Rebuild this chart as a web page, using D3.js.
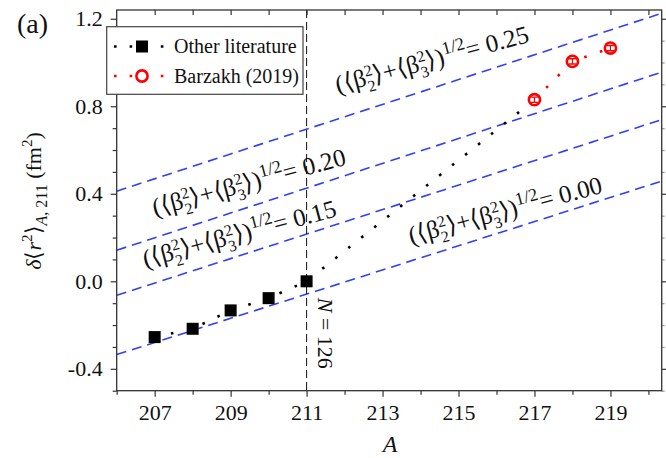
<!DOCTYPE html>
<html>
<head>
<meta charset="utf-8">
<script src="https://cdn.jsdelivr.net/npm/d3@7"></script>
<style>
  body { margin: 0; background: #fff; }
  svg { display: block; }
</style>
</head>
<body>
<div id="chart"></div>
<script>
// data
const otherA = [207, 208, 209, 210, 211];
const otherVal = [-0.255, -0.217, -0.133, -0.077, 0.0];
const barzakhA = [217, 218, 219];
const barzakhVal = [0.83, 1.005, 1.066];
const barzakhErr = [0.012, 0.012, 0.012];

// iso-deformation lines: value at A=206 and at A=220.35
const betaLabels = ['0.25', '0.20', '0.15', '0.00'];
const betaStart = [0.412, 0.142, -0.064, -0.335];
const betaEnd = [1.225, 0.956, 0.739, 0.458];
// where each label's baseline starts (A, value)
const betaLabelA = [211.82, 207.0, 206.75, 213.75];
const betaLabelVal = [0.859, 0.298, 0.063, 0.17];
const labelAngle = 15;

const xMajorTicks = [207, 209, 211, 213, 215, 217, 219];
const yMajorTicks = [-0.4, 0.0, 0.4, 0.8, 1.2];
const magicN = 211;

const W = 666, H = 458;
const FONT = "'Liberation Serif', 'Times New Roman', serif";
const xDomain = [206, 220.35], yDomain = [-0.5, 1.24];
const m = { left: 116.7, right: 661.7, top: 10, bottom: 390.7 };

const x = d3.scaleLinear().domain(xDomain).range([m.left, m.right]);
const y = d3.scaleLinear().domain(yDomain).range([m.bottom, m.top]);

const svg = d3.select('#chart').append('svg')
  .attr('width', W).attr('height', H)
  .attr('font-family', FONT);

svg.append('defs').append('clipPath').attr('id', 'plot')
  .append('rect').attr('x', m.left).attr('y', m.top)
  .attr('width', m.right - m.left).attr('height', m.bottom - m.top);

const plot = svg.append('g').attr('clip-path', 'url(#plot)');

// blue dashed lines
betaLabels.forEach((b, i) => {
  plot.append('line')
    .attr('x1', x(xDomain[0])).attr('y1', y(betaStart[i]))
    .attr('x2', x(xDomain[1])).attr('y2', y(betaEnd[i]))
    .attr('stroke', '#3040f8').attr('stroke-width', 1.6)
    .attr('stroke-dasharray', '10,6');
});

// N = 126 line
plot.append('line')
  .attr('x1', x(magicN)).attr('x2', x(magicN))
  .attr('y1', m.top).attr('y2', m.bottom)
  .attr('stroke', '#111').attr('stroke-width', 1)
  .attr('stroke-dasharray', '8,4');

svg.append('text')
  .attr('transform', `translate(${x(magicN) + 11},${y(-0.075)}) rotate(90)`)
  .attr('font-size', 22).attr('fill', '#111')
  .html('<tspan font-style="italic">N</tspan> = 126');

// labels on the iso lines
betaLabels.forEach((b, i) => {
  const t = svg.append('text')
    .attr('transform', `translate(${x(betaLabelA[i])},${y(betaLabelVal[i])}) rotate(${-labelAngle})`)
    .attr('font-size', 25).attr('fill', '#111');
  t.html(
    '(⟨β<tspan font-size="16" dy="-9">2</tspan><tspan font-size="16" dx="-8" dy="16">2</tspan>' +
    '<tspan dy="-7">⟩+⟨β</tspan><tspan font-size="16" dy="-9">2</tspan><tspan font-size="16" dx="-8" dy="16">3</tspan>' +
    '<tspan dy="-7">⟩)</tspan><tspan font-size="18" dy="-10">1/2</tspan><tspan dy="10">= ' + b + '</tspan>'
  );
});

// other literature: dotted line through to first Barzakh point
const otherPts = otherA.map((a, i) => [a, otherVal[i]]);
const linkPts = otherPts.concat([[barzakhA[0], barzakhVal[0]]]);
const line = d3.line().x(d => x(d[0])).y(d => y(d[1]));

plot.append('path').datum(linkPts)
  .attr('d', line).attr('fill', 'none')
  .attr('stroke', '#000').attr('stroke-width', 2.6)
  .attr('stroke-dasharray', '2.6,14');

const barPts = barzakhA.map((a, i) => [a, barzakhVal[i], barzakhErr[i]]);
plot.append('path').datum(barPts)
  .attr('d', line).attr('fill', 'none')
  .attr('stroke', '#f00').attr('stroke-width', 2.6)
  .attr('stroke-dasharray', '2.6,14');

plot.selectAll('rect.sq').data(otherPts).enter().append('rect')
  .attr('class', 'sq')
  .attr('x', d => x(d[0]) - 6).attr('y', d => y(d[1]) - 6)
  .attr('width', 12).attr('height', 12).attr('fill', '#000');

const circ = plot.selectAll('g.bz').data(barPts).enter().append('g').attr('class', 'bz');
circ.append('circle')
  .attr('cx', d => x(d[0])).attr('cy', d => y(d[1])).attr('r', 5.6)
  .attr('fill', '#fff').attr('stroke', '#f00').attr('stroke-width', 2.6);
circ.append('line')
  .attr('x1', d => x(d[0])).attr('x2', d => x(d[0]))
  .attr('y1', d => y(d[1] - d[2])).attr('y2', d => y(d[1] + d[2]))
  .attr('stroke', '#f00').attr('stroke-width', 1.2);
[-1, 1].forEach(s => {
  circ.append('line')
    .attr('x1', d => x(d[0]) - 3.5).attr('x2', d => x(d[0]) + 3.5)
    .attr('y1', d => y(d[1] + s * d[2])).attr('y2', d => y(d[1] + s * d[2]))
    .attr('stroke', '#f00').attr('stroke-width', 1.4);
});

// axes
const yMinor = d3.range(-5, 13).map(v => v / 10).filter(v => !yMajorTicks.some(t => Math.abs(t - v) < 1e-6));
const xMinor = d3.range(206, 221).filter(v => !xMajorTicks.includes(v));
const axisColor = '#333';

function styleAxis(g) {
  g.attr('font-family', FONT);
  g.select('.domain').remove();
  g.selectAll('line').attr('stroke', axisColor).attr('stroke-width', 1.2);
  g.selectAll('text').attr('fill', '#111')
    .attr('font-family', FONT).attr('font-size', 22);
}

svg.append('g').attr('transform', `translate(${m.left},0)`)
  .call(d3.axisLeft(y).tickValues(yMajorTicks).tickSize(6).tickPadding(8)
    .tickFormat(d => d.toFixed(1)))
  .call(styleAxis);
svg.append('g').attr('transform', `translate(${m.left},0)`)
  .call(d3.axisLeft(y).tickValues(yMinor).tickSize(4).tickFormat(''))
  .call(styleAxis);

svg.append('g').attr('transform', `translate(${m.right},0)`)
  .call(d3.axisLeft(y).tickValues(yMajorTicks).tickSize(-6).tickFormat(''))
  .call(styleAxis);
svg.append('g').attr('transform', `translate(${m.right},0)`)
  .call(d3.axisLeft(y).tickValues(yMinor).tickSize(-3).tickFormat(''))
  .call(styleAxis)
  .call(g => g.selectAll('line').attr('stroke', '#999'));

svg.append('g').attr('transform', `translate(0,${m.bottom})`)
  .call(d3.axisBottom(x).tickValues(xMajorTicks).tickSize(6).tickPadding(8)
    .tickFormat(d3.format('d')))
  .call(styleAxis);
svg.append('g').attr('transform', `translate(0,${m.bottom})`)
  .call(d3.axisBottom(x).tickValues(xMinor).tickSize(4).tickFormat(''))
  .call(styleAxis);

svg.append('g').attr('transform', `translate(0,${m.top})`)
  .call(d3.axisTop(x).tickValues(d3.range(207, 221)).tickSize(-5).tickFormat(''))
  .call(styleAxis);

svg.append('rect')
  .attr('x', m.left).attr('y', m.top)
  .attr('width', m.right - m.left).attr('height', m.bottom - m.top)
  .attr('fill', 'none').attr('stroke', axisColor).attr('stroke-width', 1.3);

// axis titles
svg.append('text')
  .attr('x', x(213.2)).attr('y', 452)
  .attr('text-anchor', 'middle').attr('font-size', 24)
  .attr('font-style', 'italic').attr('fill', '#111').text('A');

svg.append('text')
  .attr('transform', 'translate(41,201) rotate(-90)')
  .attr('text-anchor', 'middle').attr('font-size', 22).attr('fill', '#111')
  .html('<tspan font-style="italic">δ</tspan>⟨<tspan font-style="italic">r</tspan>' +
    '<tspan font-size="15" dy="-9">2</tspan><tspan dy="9">⟩</tspan>' +
    '<tspan font-size="16" dy="6"><tspan font-style="italic">A</tspan>, 211</tspan>' +
    '<tspan dy="-6"> (fm</tspan><tspan font-size="15" dy="-9">2</tspan><tspan dy="9">)</tspan>');

svg.append('text').attr('x', 17).attr('y', 33)
  .attr('font-size', 28).attr('fill', '#111').text('(a)');

// legend
const lg = svg.append('g');
lg.append('rect').attr('x', 106.7).attr('y', 26.7)
  .attr('width', 196.3).attr('height', 67.6)
  .attr('fill', '#fff').attr('stroke', '#444').attr('stroke-width', 1.2);

const legendItems = [
  { label: 'Other literature', color: '#000', marker: 'square', yy: 46.5 },
  { label: 'Barzakh (2019)', color: '#f00', marker: 'circle', yy: 76 }
];
legendItems.forEach(it => {
  lg.append('line').attr('x1', 114).attr('x2', 172)
    .attr('y1', it.yy).attr('y2', it.yy)
    .attr('stroke', it.color).attr('stroke-width', 2.6)
    .attr('stroke-dasharray', '2.6,13');
  if (it.marker === 'square') {
    lg.append('rect').attr('x', 142 - 6).attr('y', it.yy - 6)
      .attr('width', 12).attr('height', 12).attr('fill', it.color);
  } else {
    lg.append('circle').attr('cx', 142).attr('cy', it.yy).attr('r', 5.6)
      .attr('fill', '#fff').attr('stroke', it.color).attr('stroke-width', 2.6);
  }
  lg.append('text').attr('x', 174).attr('y', it.yy + 6.5)
    .attr('font-size', 20).attr('fill', '#111').text(it.label);
});
</script>
</body>
</html>
